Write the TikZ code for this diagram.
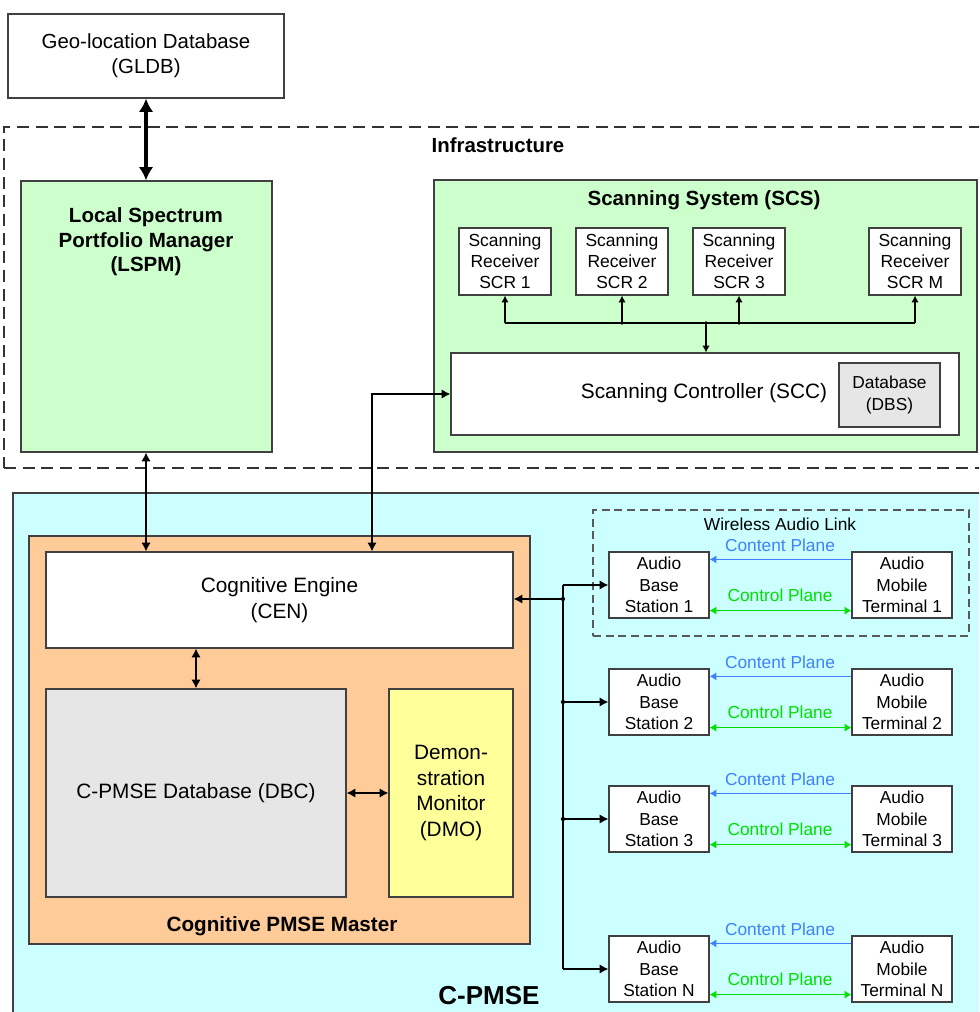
\documentclass[tikz,border=0pt]{standalone}
\usepackage{fontspec}
\setmainfont{Liberation Sans}
\usetikzlibrary{arrows.meta}
\definecolor{bord}{HTML}{404040}
\definecolor{fgreen}{HTML}{CCFFCC}
\definecolor{fcyan}{HTML}{CCFFFF}
\definecolor{forange}{HTML}{FFCC99}
\definecolor{fyellow}{HTML}{FFFF99}
\definecolor{fgray}{HTML}{E6E6E6}
\definecolor{cblue}{HTML}{4080FF}
\definecolor{cgreen}{HTML}{00E000}
\tikzset{
  box/.style={draw=bord, line width=0.9pt, inner sep=0pt, align=center},
  sz/.style 2 args={minimum width=#1*0.75pt, minimum height=#2*0.75pt},
  fA/.style={font=\fontsize{15.3}{18.6}\selectfont},
  fB/.style={font=\fontsize{15.6}{19.3}\selectfont},
  fC/.style={font=\fontsize{13}{16.1}\selectfont},
  fD/.style={font=\fontsize{13.1}{15.7}\selectfont},
  txt/.style={inner sep=0pt, align=center},
  arr/.style={line width=1.1pt, -{Latex[length=6.5pt,width=7pt]}},
  darr/.style={line width=1.1pt, {Latex[length=6.5pt,width=7pt]}-{Latex[length=6.5pt,width=7pt]}},
  sarr/.style={line width=0.9pt, -{Latex[length=5pt,width=5.5pt]}},
  thick arr/.style={line width=2.3pt, {Latex[length=10pt,width=11pt]}-{Latex[length=10pt,width=11pt]}},
  carr/.style={line width=0.9pt, draw=cblue, -{Latex[length=5pt,width=6pt]}},
  ctlarr/.style={line width=0.9pt, draw=cgreen, {Latex[length=5pt,width=6pt]}-{Latex[length=5pt,width=6pt]}},
  jdot/.style={fill=black}
}
\begin{document}
\begin{tikzpicture}[x=0.75pt,y=-0.75pt]
\useasboundingbox (0,0) rectangle (979,1012);
\fill[white] (0,0) rectangle (979,1012);
\begin{scope}
\clip (0,0) rectangle (979,1012);

% GLDB
\node[box, sz={276}{84}, fill=white, fA] (gldb) at (146,56) {Geo-location Database\\(GLDB)};

% Infrastructure
\node[draw=black!80, line width=1.5pt, dash pattern=on 9pt off 5pt, sz={990}{341}, inner sep=0pt] (infra) at (499,297.5) {};
\node[txt, font=\fontsize{15.3}{18.6}\selectfont\bfseries] (infralbl) at (498,145) {Infrastructure};

% LSPM
\node[box, sz={251}{271}, fill=fgreen] (lspm) at (146.5,316.5) {};
\node[txt, font=\fontsize{15.4}{18.4}\selectfont\bfseries] (lspmlbl) at (146,242) {Local Spectrum\\Portfolio Manager\\(LSPM)};

% SCS
\node[box, sz={543}{272}, fill=fgreen] (scs) at (705.5,316) {};
\node[txt, font=\fontsize{15.4}{18}\selectfont\bfseries] (scslbl) at (704,200) {Scanning System (SCS)};
\node[box, sz={92}{67}, fill=white, fD] (scr1) at (505,261.5) {Scanning\\Receiver\\SCR 1};
\node[box, sz={92}{67}, fill=white, fD] (scr2) at (622,261.5) {Scanning\\Receiver\\SCR 2};
\node[box, sz={92}{67}, fill=white, fD] (scr3) at (739,261.5) {Scanning\\Receiver\\SCR 3};
\node[box, sz={92}{67}, fill=white, fD] (scrm) at (915,261.5) {Scanning\\Receiver\\SCR M};
\node[box, sz={508}{82}, fill=white] (scc) at (705,394) {};
\node[txt, fB] (scclbl) at (704,393) {Scanning Controller (SCC)};
\node[box, sz={101}{64}, fill=fgray, fC] (dbs) at (889.5,395) {Database\\(DBS)};

\coordinate (sj) at (706,323);
\draw[line width=0.9pt] (scr1.south |- sj) -- (scrm.south |- sj);
\foreach \n in {scr1,scr2,scr3,scrm} \draw[sarr] (\n.south |- sj) -- (\n.south);
\draw[sarr] (sj) -- (sj |- scc.north);
\foreach \p in {(sj),(scr2.south |- sj),(scr3.south |- sj)} \fill[jdot] \p circle (1.4pt);

% C-PMSE
\node[box, sz={1000}{560}, fill=fcyan] (cpmse) at (513,773) {};
\node[txt, font=\fontsize{19.5}{22}\selectfont\bfseries] (cpmselbl) at (489,996) {C-PMSE};

% Cognitive PMSE Master
\node[box, sz={501}{408}, fill=forange] (cpm) at (279.5,740) {};
\node[txt, font=\fontsize{15.5}{18}\selectfont\bfseries] (cpmlbl) at (282,926) {Cognitive PMSE Master};
\node[box, sz={467}{96}, fill=white, fB] (cen) at (279.5,600) {Cognitive Engine\\(CEN)};
\node[box, sz={300}{208}, fill=fgray, fB] (dbc) at (196,793) {C-PMSE Database (DBC)};
\node[box, sz={124}{208}, fill=fyellow, font=\fontsize{15.6}{19.2}\selectfont] (dmo) at (451,793) {Demon-\\stration\\Monitor\\(DMO)};

% Wireless audio link frame
\node[draw=black!65, line width=1pt, dash pattern=on 6pt off 3.5pt, sz={376}{126}, inner sep=0pt] (wal) at (781,573) {};
\node[txt, fC] (wallbl) at (780,524) {Wireless Audio Link};

\foreach \i/\t in {1/552,2/669,3/786,N/936}{
  \node[box, sz={100}{66}, fill=white, fC] (abs\i) at (659,{\t+33}) {Audio\\Base\\Station \i};
  \node[box, sz={100}{66}, fill=white, fC] (amt\i) at (902,{\t+33}) {Audio\\Mobile\\Terminal \i};
  \draw[carr] ([yshift=-6pt]amt\i.north west) -- ([yshift=-6pt]abs\i.north east);
  \draw[ctlarr] ([yshift=6pt]abs\i.south east) -- ([yshift=6pt]amt\i.south west);
  \node[txt, fC, text=cblue] (cont\i) at (780,{\t-7}) {Content Plane};
  \node[txt, fC, text=cgreen] (ctrl\i) at (780,{\t+43}) {Control Plane};
}

% bus to audio base stations
\coordinate (bus) at (563,599);
\draw[line width=1.1pt] (abs1.west -| bus) -- (absN.west -| bus);
\foreach \i in {1,2,3,N} \draw[arr] (abs\i.west -| bus) -- (abs\i.west);
\draw[arr] (bus) -- (bus -| cen.east);
\foreach \p in {(bus),(abs2.west -| bus),(abs3.west -| bus)} \fill[jdot] \p circle (1.6pt);

% connectors
\coordinate (lx) at (146,0);
\draw[thick arr] (gldb.south -| lx) -- (lspm.north -| lx);
\draw[darr] (lspm.south -| lx) -- (cen.north -| lx);
\coordinate (ce) at (372,393);
\draw[darr] (cen.north -| ce) -- (scc.west -| ce) -- (scc.west);
\draw[darr] (dbc.north |- cen.south) -- (dbc.north);
\draw[darr] (dbc.east) -- (dmo.west);
\end{scope}
\end{tikzpicture}
\end{document}
